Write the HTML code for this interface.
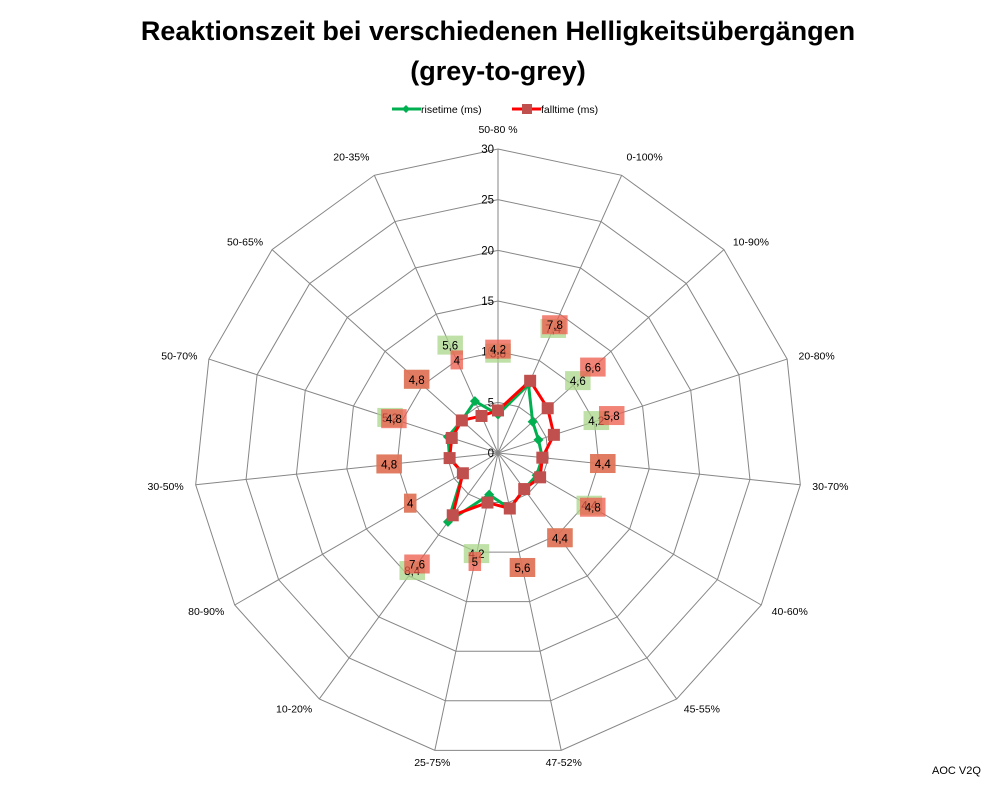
<!DOCTYPE html>
<html><head><meta charset="utf-8"><style>
body{margin:0;background:#fff;width:998px;height:786px;overflow:hidden;font-family:"Liberation Sans",sans-serif}
</style></head><body>
<svg id="chart" width="998" height="786" xmlns="http://www.w3.org/2000/svg" font-family="Liberation Sans, sans-serif">
<text x="498" y="40" text-anchor="middle" font-size="27" font-weight="bold">Reaktionszeit bei verschiedenen Helligkeitsübergängen</text>
<text x="498" y="80" text-anchor="middle" font-size="27" font-weight="bold">(grey-to-grey)</text>
<g font-size="10.5">
<g><line x1="392" y1="109" x2="421" y2="109" stroke="#00b050" stroke-width="3"/><path d="M406,105 L410,109 L406,113 L402,109Z" fill="#00b050"/><text x="421" y="113">risetime (ms)</text></g>
<g><line x1="512" y1="109" x2="541" y2="109" stroke="#ff0000" stroke-width="3"/><rect x="522" y="104" width="10" height="10" fill="#c0504d"/><text x="541" y="113">falltime (ms)</text></g>
</g>
<g id="grid"></g>
<g id="marks"></g>
<text x="932" y="774" font-size="11">AOC V2Q</text>
</svg>
<script>
const categories=["50-80 %","0-100%","10-90%","20-80%","30-70%","40-60%","45-55%","47-52%","25-75%","10-20%","80-90%","30-50%","50-70%","50-65%","20-35%"];
const riseValues=[3.8,7.4,4.6,4.2,4.4,4.4,4.4,5.6,4.2,8.4,4,4.8,5.2,4.8,5.6];
const fallValues=[4.2,7.8,6.6,5.8,4.4,4.8,4.4,5.6,5,7.6,4,4.8,4.8,4.8,4];
const tickLabels=[0,5,10,15,20,25,30];
const cx=498,cy=453,R=304,maxV=30;
const NS="http://www.w3.org/2000/svg";
const n=categories.length;
function ang(i){return i*2*Math.PI/n;}
function px(i,v){return cx+Math.sin(ang(i))*v/maxV*R;}
function py(i,v){return cy-Math.cos(ang(i))*v/maxV*R;}
function mk(t,a,parent){const e=document.createElementNS(NS,t);for(const k in a)e.setAttribute(k,a[k]);parent.appendChild(e);return e;}
const grid=document.getElementById('grid'),marks=document.getElementById('marks');
tickLabels.forEach(t=>{if(t===0)return;
 const pts=categories.map((c,i)=>px(i,t)+','+py(i,t)).join(' ');
 const p=mk('polygon',{points:pts,fill:'none',stroke:'#868686','stroke-width':1},grid);
 
 
});
categories.forEach((c,i)=>{
 const l=mk('line',{x1:cx,y1:cy,x2:px(i,maxV),y2:py(i,maxV),stroke:'#868686','stroke-width':1},grid);
 
 
 const s=Math.sin(ang(i)),co=Math.cos(ang(i));
 let x=px(i,maxV)+s*12,y=py(i,maxV)-co*12+4;
 let anchor='middle';
 if(s>0.3)anchor='start';else if(s<-0.3)anchor='end';
 if(co>0.9)y-=8;
 const t=mk('text',{x:x,y:y,'text-anchor':anchor,'font-size':10.5},grid);
 t.textContent=c;
 
 
});
tickLabels.forEach(t=>{
 const e=mk('text',{x:cx-4,y:py(0,t)+4,'text-anchor':'end','font-size':11.5},grid);
 e.textContent=t;
 
 
});
function series(vals,color,name,labelColor,marker){
 const pts=vals.map((v,i)=>px(i,v)+','+py(i,v)).join(' ');
 const pl=mk('polygon',{points:pts,fill:'none',stroke:color,'stroke-width':3,'stroke-linejoin':'round'},marks);
 
 
 vals.forEach((v,i)=>{
  const x=px(i,v),y=py(i,v);
  let m;
  if(marker==='sq')m=mk('rect',{x:x-6,y:y-6,width:12,height:12,fill:'#c0504d'},marks);
  else m=mk('path',{d:`M${x},${y-5}L${x+5},${y}L${x},${y+5}L${x-5},${y}Z`,fill:'#00b050'},marks);
  
  
  const lx=px(i,v+6),ly=py(i,v+6);
  const s=(v+'').replace('.',',');
  const w=s.length*6.5+6;
  const r=mk('rect',{x:lx-w/2,y:ly-10,width:w,height:19,fill:labelColor,opacity:0.75},marks);
  
  
  const t=mk('text',{x:lx,y:ly+4,'text-anchor':'middle','font-size':11.5,fill:'#000'},marks);
  t.textContent=s;
  
  
 });
}
series(riseValues,'#00b050','rise','#a9d58a','dia');
series(fallValues,'#ff0000','fall','#ec5a4a','sq');
</script>
</body></html>
